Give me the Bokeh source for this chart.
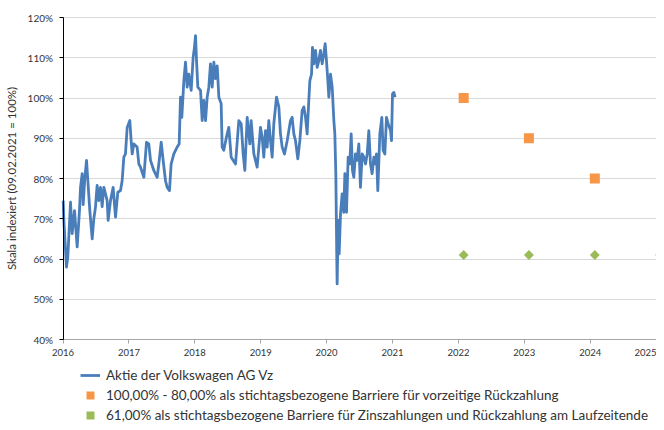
import math
from bokeh.plotting import figure
from bokeh.models import (Range1d, FixedTicker, PrintfTickFormatter, Legend,
                          LegendItem, ColumnDataSource)
from bokeh.embed import file_html
from bokeh.resources import INLINE

# ---- data -----------------------------------------------------------------
stock_dates = [
    2016.003, 2016.013, 2016.053, 2016.073, 2016.114, 2016.139, 2016.175, 2016.215,
    2016.250, 2016.266, 2016.291, 2016.306, 2016.331, 2016.357, 2016.377, 2016.407,
    2016.443, 2016.468, 2016.493, 2016.518, 2016.544, 2016.569, 2016.594, 2016.620,
    2016.670, 2016.685, 2016.721, 2016.761, 2016.797, 2016.832, 2016.873, 2016.898,
    2016.923, 2016.948, 2016.974, 2017.014, 2017.034, 2017.050, 2017.075, 2017.125,
    2017.151, 2017.176, 2017.227, 2017.267, 2017.302, 2017.328, 2017.378, 2017.429,
    2017.454, 2017.490, 2017.520, 2017.555, 2017.581, 2017.616, 2017.641, 2017.682,
    2017.732, 2017.763, 2017.783, 2017.803, 2017.834, 2017.859, 2017.884, 2017.909,
    2017.945, 2017.975, 2017.995, 2018.011, 2018.026, 2018.046, 2018.087, 2018.112,
    2018.137, 2018.163, 2018.188, 2018.213, 2018.238, 2018.264, 2018.289, 2018.314,
    2018.340, 2018.365, 2018.400, 2018.415, 2018.440, 2018.491, 2018.516, 2018.552,
    2018.618, 2018.668, 2018.704, 2018.734, 2018.759, 2018.795, 2018.835, 2018.855,
    2018.896, 2018.946, 2018.972, 2018.997, 2019.022, 2019.047, 2019.073, 2019.098,
    2019.123, 2019.149, 2019.174, 2019.199, 2019.240, 2019.275, 2019.300, 2019.326,
    2019.361, 2019.402, 2019.452, 2019.477, 2019.503, 2019.528, 2019.563, 2019.594,
    2019.629, 2019.655, 2019.680, 2019.705, 2019.730, 2019.746, 2019.771, 2019.786,
    2019.806, 2019.832, 2019.857, 2019.882, 2019.907, 2019.933, 2019.958, 2019.978,
    2019.998, 2020.019, 2020.034, 2020.059, 2020.085, 2020.110, 2020.125, 2020.140,
    2020.155, 2020.160, 2020.176, 2020.191, 2020.211, 2020.236, 2020.261, 2020.277,
    2020.302, 2020.327, 2020.352, 2020.373, 2020.393, 2020.413, 2020.438, 2020.464,
    2020.489, 2020.514, 2020.540, 2020.565, 2020.590, 2020.616, 2020.641, 2020.666,
    2020.691, 2020.717, 2020.742, 2020.757, 2020.777, 2020.808, 2020.838, 2020.858,
    2020.884, 2020.909, 2020.934, 2020.970, 2020.985, 2021.000, 2021.020, 2021.040,
]
stock_values = [
    74.5, 69.6, 58.0, 60.5, 74.1, 66.3, 72.0, 63.0,
    72.0, 77.8, 81.2, 73.5, 80.0, 84.5, 79.5, 72.0,
    65.0, 70.0, 72.9, 78.3, 74.5, 77.8, 73.0, 77.8,
    74.5, 69.6, 74.5, 77.8, 70.4, 76.6, 77.0, 79.5,
    85.3, 86.1, 92.7, 94.4, 89.4, 86.1, 88.6, 87.8,
    83.6, 82.8, 80.3, 89.0, 88.6, 84.5, 82.0, 80.3,
    83.6, 89.0, 84.5, 79.5, 77.8, 77.0, 83.6, 86.1,
    87.8, 88.6, 100.2, 95.2, 104.3, 108.9, 102.7, 105.9,
    101.9, 110.1, 112.6, 115.5, 109.3, 102.7, 101.9, 94.4,
    99.4, 94.4, 100.2, 102.7, 108.5, 102.7, 108.9, 104.8,
    108.0, 100.2, 98.6, 87.8, 87.0, 91.1, 92.7, 85.3,
    83.6, 94.4, 93.6, 86.1, 82.0, 95.2, 88.6, 94.4,
    86.1, 82.8, 87.8, 92.7, 90.3, 85.3, 91.9, 87.8,
    94.4, 89.4, 85.3, 93.6, 100.2, 97.8, 91.1, 87.8,
    86.1, 89.4, 94.4, 95.2, 91.1, 89.4, 84.9, 89.4,
    96.9, 97.8, 95.2, 91.1, 99.4, 104.3, 105.9, 112.6,
    108.5, 111.8, 107.6, 109.3, 111.8, 108.5, 111.0, 113.5,
    109.3, 104.3, 100.2, 105.9, 102.7, 94.4, 91.1, 81.2,
    59.6, 53.8, 69.6, 61.3, 71.2, 76.2, 71.6, 81.2,
    71.6, 85.3, 83.6, 91.1, 82.0, 80.3, 86.1, 84.5,
    88.6, 77.8, 86.1, 85.3, 83.6, 86.1, 91.9, 83.6,
    81.2, 85.3, 83.6, 86.1, 77.0, 91.1, 95.2, 87.0,
    86.1, 95.2, 93.6, 91.9, 89.4, 101.0, 101.4, 100.2,
]

callable_dates = [2022.08, 2023.07, 2024.07]
callable_barriers = [100, 90, 80]

coupon_dates = [2022.08, 2023.07, 2024.07, 2025.06]
coupon_barriers = [61, 61, 61, 61]

x_ticks = list(range(2016, 2026))
y_ticks = list(range(40, 121, 10))
x_min = 2016
y_min, y_max = 40, 120

series_labels = [
    "Aktie der Volkswagen AG Vz",
    "100,00% - 80,00% als stichtagsbezogene Barriere für vorzeitige Rückzahlung",
    "61,00% als stichtagsbezogene Barriere für Zinszahlungen und Rückzahlung am Laufzeitende",
]
y_title = "Skala indexiert (09.02.2021 = 100%)"

# ---- layout / style -------------------------------------------------------
FONT = "Lato"
TXT = "#333333"
BLUE = "#4A7EBB"
ORANGE = "#F79646"
GREEN = "#9BBB59"

W, H = 656, 422               # figure = frame (axes drawn at fixed locations)
AXIS_X, TOP_Y, BOTTOM_Y = 62.5, 17, 339   # pixel positions of the plot band
PX_PER_YEAR = 65.9
px_per_pct = (BOTTOM_Y - TOP_Y) / (y_max - y_min)

x_start = x_min - AXIS_X / PX_PER_YEAR
x_end = x_min + (W - AXIS_X) / PX_PER_YEAR
y_end = y_max + TOP_Y / px_per_pct
y_start = y_max - (H - TOP_Y) / px_per_pct

p = figure(frame_width=W, frame_height=H, output_backend="svg",
           toolbar_location=None,
           x_range=Range1d(x_start, x_end), y_range=Range1d(y_start, y_end),
           min_border_left=0, min_border_right=0, min_border_top=0,
           min_border_bottom=0)
p.outline_line_color = None
p.background_fill_color = "white"
p.border_fill_color = "white"

p.xgrid.visible = False
p.ygrid.grid_line_color = "#D9D9D9"
p.ygrid.grid_line_width = 1
p.ygrid.cross_bounds = (x_min, x_end)

p.xaxis.ticker = FixedTicker(ticks=x_ticks)
p.xaxis.formatter = PrintfTickFormatter(format="%d")
p.xaxis.fixed_location = y_min
p.xaxis.bounds = (x_min, x_end)
p.yaxis.ticker = FixedTicker(ticks=y_ticks)
p.yaxis.formatter = PrintfTickFormatter(format="%d%%")
p.yaxis.fixed_location = x_min
p.yaxis.bounds = (y_min, y_max)

for ax in (p.xaxis[0], p.yaxis[0]):
    ax.major_tick_out = 4
    ax.major_tick_in = 0
    ax.minor_tick_line_color = None
    ax.major_label_text_font = FONT
    ax.major_label_text_color = TXT

p.xaxis.major_label_text_font_size = "9.5px"
p.yaxis.major_label_text_font_size = "10px"
p.xaxis.axis_line_color = "#A6A6A6"
p.xaxis.major_tick_line_color = "#A6A6A6"
p.xaxis.major_label_standoff = 5
p.yaxis.axis_line_color = "black"
p.yaxis.major_tick_line_color = "black"
p.yaxis.major_label_standoff = 6
p.yaxis.axis_label = y_title
p.yaxis.axis_label_text_font = FONT
p.yaxis.axis_label_text_font_style = "normal"
p.yaxis.axis_label_text_font_size = "11.5px"
p.yaxis.axis_label_text_color = TXT
p.yaxis.axis_label_standoff = 7

src_line = ColumnDataSource(dict(x=stock_dates, y=stock_values))
src_sq = ColumnDataSource(dict(x=callable_dates, y=callable_barriers))
src_dm = ColumnDataSource(dict(x=coupon_dates, y=coupon_barriers))

r_line = p.line("x", "y", source=src_line, line_color=BLUE, line_width=2.8,
                line_join="round")
r_sq = p.scatter("x", "y", source=src_sq, marker="square", size=10,
                 fill_color=ORANGE, line_color=None)
r_dm = p.scatter("x", "y", source=src_dm, marker="square", size=7,
                 angle=math.pi / 4, fill_color=GREEN, line_color=None)

legend = Legend(
    items=[LegendItem(label=series_labels[0], renderers=[r_line]),
           LegendItem(label=series_labels[1], renderers=[r_sq]),
           LegendItem(label=series_labels[2], renderers=[r_dm])],
    location=(80, -3), orientation="vertical",
    border_line_color=None, background_fill_alpha=0,
    padding=0, margin=0, spacing=0,
    label_height=20, glyph_height=20, glyph_width=20, label_standoff=6,
    label_text_font=FONT, label_text_font_size="13.5px", label_text_color=TXT,
)
p.add_layout(legend)

open("out.html", "w").write(file_html(p, INLINE))
